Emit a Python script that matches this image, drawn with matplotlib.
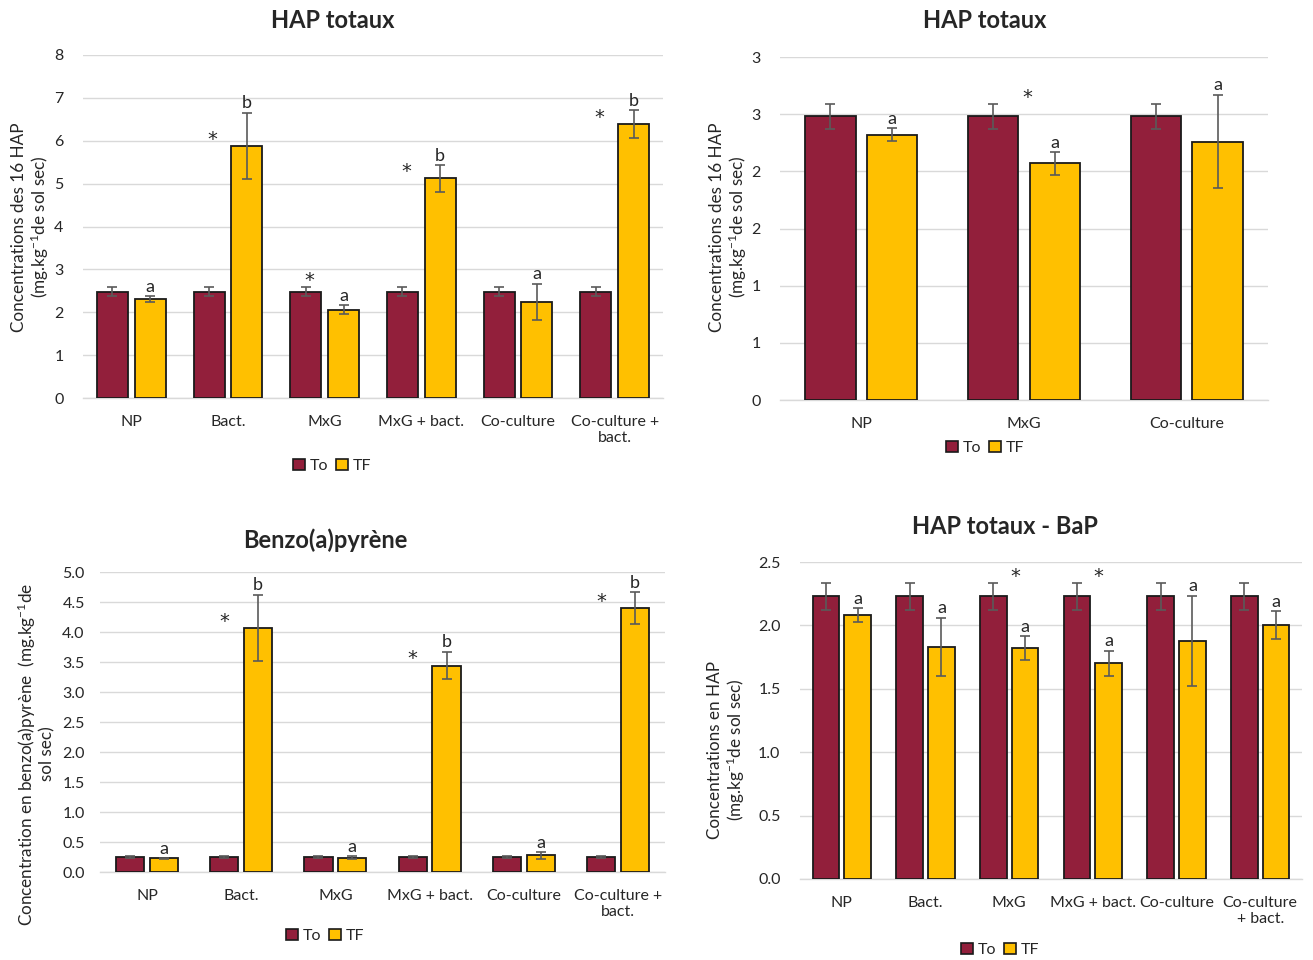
import matplotlib
matplotlib.use('Agg')
import matplotlib.pyplot as plt
import numpy as np
from matplotlib.ticker import FuncFormatter
from matplotlib.patches import Patch

plt.rcParams['font.family'] = ['Lato', 'DejaVu Sans']
plt.rcParams['mathtext.fontset'] = 'custom'
plt.rcParams['mathtext.rm'] = 'Lato'
plt.rcParams['mathtext.it'] = 'Lato:italic'
plt.rcParams['mathtext.bf'] = 'Lato:bold'

C_TO = '#921F3B'
C_TF = '#FFC000'
C_GRID = '#D9D9D9'
C_ERR = '#5A5A5A'
C_TXT = '#262626'

# ---------------- data ----------------
# Top-left: HAP totaux (6 treatments)
tl_categories = ['NP', 'Bact.', 'MxG', 'MxG + bact.', 'Co-culture', 'Co-culture +\nbact.']
tl_to = [2.48, 2.48, 2.48, 2.48, 2.48, 2.48]
tl_to_err = [0.11, 0.11, 0.11, 0.11, 0.11, 0.11]
tl_tf = [2.31, 5.88, 2.06, 5.12, 2.25, 6.39]
tl_tf_err = [0.065, 0.77, 0.11, 0.31, 0.42, 0.32]
tl_letters = ['a', 'b', 'a', 'b', 'a', 'b']
tl_stars = ['', '*', '*', '*', '', '*']
tl_yticks = [0, 1, 2, 3, 4, 5, 6, 7, 8]

# Top-right: HAP totaux (3 treatments)
tr_categories = ['NP', 'MxG', 'Co-culture']
tr_to = [2.48, 2.48, 2.48]
tr_to_err = [0.11, 0.11, 0.11]
tr_tf = [2.32, 2.07, 2.26]
tr_tf_err = [0.055, 0.10, 0.41]
tr_letters = ['a', 'a', 'a']
tr_stars = ['', '*', '']
tr_yticks = [0, 0.5, 1.0, 1.5, 2.0, 2.5, 3.0]

# Bottom-left: Benzo(a)pyrene
bl_categories = ['NP', 'Bact.', 'MxG', 'MxG + bact.', 'Co-culture', 'Co-culture +\nbact.']
bl_to = [0.25, 0.25, 0.25, 0.25, 0.25, 0.25]
bl_to_err = [0.01, 0.01, 0.01, 0.01, 0.01, 0.01]
bl_tf = [0.23, 4.07, 0.24, 3.44, 0.28, 4.40]
bl_tf_err = [0.005, 0.55, 0.02, 0.23, 0.055, 0.26]
bl_letters = ['a', 'b', 'a', 'b', 'a', 'b']
bl_stars = ['', '*', '', '*', '', '*']
bl_yticks = [0.0, 0.5, 1.0, 1.5, 2.0, 2.5, 3.0, 3.5, 4.0, 4.5, 5.0]

# Bottom-right: HAP totaux - BaP
br_categories = ['NP', 'Bact.', 'MxG', 'MxG + bact.', 'Co-culture', 'Co-culture\n+ bact.']
br_to = [2.23, 2.23, 2.23, 2.23, 2.23, 2.23]
br_to_err = [0.105, 0.105, 0.105, 0.105, 0.105, 0.105]
br_tf = [2.08, 1.83, 1.82, 1.70, 1.88, 2.00]
br_tf_err = [0.055, 0.23, 0.095, 0.10, 0.355, 0.11]
br_letters = ['a', 'a', 'a', 'a', 'a', 'a']
br_stars = ['', '', '*', '*', '', '']
br_yticks = [0.0, 0.5, 1.0, 1.5, 2.0, 2.5]

W, H = 1313, 960
fig = plt.figure(figsize=(W / 100, H / 100), dpi=100)


def fr(x0, y0, x1, y1):
    return [x0 / W, 1 - y1 / H, (x1 - x0) / W, (y1 - y0) / H]


def panel(rect, cats, to, to_err, tf, tf_err, letters, stars, yticks, fmt,
          width, off, star_dx, ypad=14):
    ax = fig.add_axes(rect)
    x = np.arange(len(cats))
    ax.bar(x - off, to, width, color=C_TO, edgecolor='#1a1a1a', linewidth=1.3, zorder=3)
    ax.bar(x + off, tf, width, color=C_TF, edgecolor='#1a1a1a', linewidth=1.3, zorder=3)
    ax.errorbar(x - off, to, yerr=to_err, fmt='none', ecolor=C_ERR, elinewidth=1.2,
                capsize=3.5, capthick=1.2, zorder=4)
    ax.errorbar(x + off, tf, yerr=tf_err, fmt='none', ecolor=C_ERR, elinewidth=1.2,
                capsize=3.5, capthick=1.2, zorder=4)
    for i in range(len(cats)):
        ax.annotate(letters[i], (x[i] + off, tf[i] + tf_err[i]), xytext=(0, 1),
                    textcoords='offset points', ha='center', va='bottom',
                    fontsize=13, color=C_TXT)
        if stars[i]:
            ytop = max(to[i] + to_err[i], tf[i])
            ax.annotate(stars[i], (x[i] + star_dx, ytop), xytext=(0, -2),
                        textcoords='offset points', ha='center', va='bottom',
                        fontsize=14, color=C_TXT, family='DejaVu Sans')
    ax.set_xlim(-0.5, len(cats) - 0.5)
    ax.set_ylim(yticks[0], yticks[-1])
    ax.set_yticks(yticks)
    ax.yaxis.set_major_formatter(FuncFormatter(fmt))
    ax.set_xticks(x)
    ax.set_xticklabels(cats)
    ax.grid(axis='y', color=C_GRID, linewidth=1, zorder=0)
    ax.set_axisbelow(True)
    for s in ['top', 'right', 'left']:
        ax.spines[s].set_visible(False)
    ax.spines['bottom'].set_color(C_GRID)
    ax.spines['bottom'].set_linewidth(1)
    ax.tick_params(axis='both', length=0, labelsize=11.5, colors=C_TXT)
    ax.tick_params(axis='x', pad=12)
    ax.tick_params(axis='y', pad=ypad)
    return ax


def fmt_int(v, p):
    return '%d' % v


def fmt_round_half(v, p):
    return '%d' % int(np.floor(v + 0.5))


def fmt_1(v, p):
    return '%.1f' % v


panel(fr(83, 55, 663, 398), tl_categories, tl_to, tl_to_err, tl_tf, tl_tf_err,
      tl_letters, tl_stars, tl_yticks, fmt_int, 0.32, 0.195, -0.16)
panel(fr(780, 57, 1268, 400), tr_categories, tr_to, tr_to_err, tr_tf, tr_tf_err,
      tr_letters, tr_stars, tr_yticks, fmt_round_half, 0.31, 0.19, 0.02)
panel(fr(100, 572, 665, 872), bl_categories, bl_to, bl_to_err, bl_tf, bl_tf_err,
      bl_letters, bl_stars, bl_yticks, fmt_1, 0.30, 0.18, -0.18, ypad=11)
panel(fr(800, 562, 1302, 879), br_categories, br_to, br_to_err, br_tf, br_tf_err,
      br_letters, br_stars, br_yticks, fmt_1, 0.32, 0.19, 0.07)

# titles
for (tx, ty, t) in [(333, 20, 'HAP totaux'), (985, 20, 'HAP totaux'),
                    (325, 540, 'Benzo(a)pyrène'), (1005, 527, 'HAP totaux - BaP')]:
    fig.text(tx / W, 1 - ty / H, t, ha='center', va='center', fontsize=17,
             fontweight='bold', color=C_TXT)

# y labels
ylab = [
    (31, 227, 'Concentrations des 16 HAP\n(mg.kg$^{-1}$de sol sec)'),
    (729, 227, 'Concentrations des 16 HAP\n(mg.kg$^{-1}$de sol sec)'),
    (36, 754, 'Concentration en benzo(a)pyrène  (mg.kg$^{-1}$de\nsol sec)'),
    (727, 750, 'Concentrations en HAP\n(mg.kg$^{-1}$de sol sec)'),
]
for (lx, ly, t) in ylab:
    fig.text(lx / W, 1 - ly / H, t, ha='center', va='center', rotation=90,
             fontsize=12.3, color=C_TXT, multialignment='center', linespacing=1.1)

# legends
handles = [Patch(facecolor=C_TO, edgecolor='#1a1a1a', linewidth=1.2, label='To'),
           Patch(facecolor=C_TF, edgecolor='#1a1a1a', linewidth=1.2, label='TF')]
for (gx, gy) in [(332, 466), (985, 448), (325, 936), (1000, 950)]:
    fig.legend(handles=handles, loc='center', bbox_to_anchor=(gx / W, 1 - gy / H),
               ncol=2, frameon=False, fontsize=11.5, handlelength=0.75,
               handleheight=0.75, handletextpad=0.3, columnspacing=0.5,
               labelcolor=C_TXT)

fig.savefig('out.png', dpi=100, facecolor='white')
